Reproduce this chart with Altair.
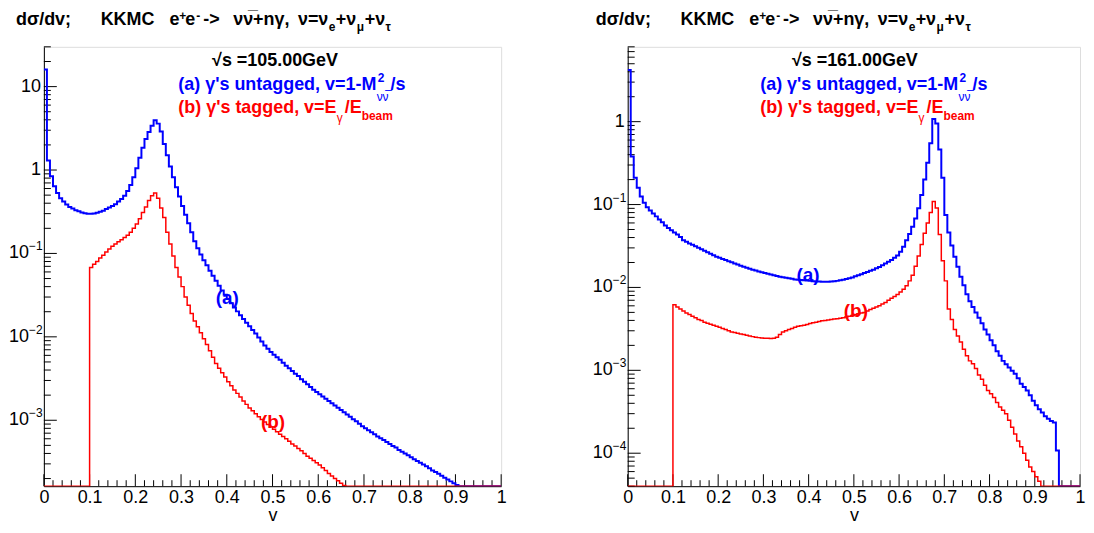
import altair as alt
import pandas as pd

NB = 150
EDGES = [i / NB for i in range(NB)] + [1.0]

# ---- sqrt(s)=105 GeV ----
blue_105 = [
    16, 1.3, 0.84, 0.64, 0.53, 0.46, 0.42, 0.385, 0.36, 0.345,
    0.33, 0.32, 0.31, 0.303, 0.30, 0.30, 0.302, 0.307, 0.315, 0.325,
    0.34, 0.355, 0.37, 0.39, 0.42, 0.45, 0.49, 0.56, 0.66, 0.82,
    1.05, 1.4, 1.85, 2.35, 2.85, 3.4, 3.95, 3.6, 2.9, 2.05,
    1.5, 1.1, 0.82, 0.62, 0.48, 0.37, 0.29, 0.23, 0.18, 0.14,
    0.115, 0.097, 0.083, 0.072, 0.062, 0.054, 0.047, 0.041, 0.036, 0.032,
    0.0285, 0.0252, 0.0225, 0.0202, 0.0182, 0.0164, 0.0148, 0.0134, 0.0121, 0.011,
    0.0098, 0.0088, 0.0079, 0.0072, 0.0066, 0.0061, 0.0057, 0.0053, 0.0049, 0.0045,
    0.0042, 0.0039, 0.0036, 0.0034, 0.0031, 0.0029, 0.0027, 0.0025, 0.00232, 0.00218,
    0.00205, 0.00193, 0.00181, 0.0017, 0.0016, 0.0015, 0.00141, 0.00133, 0.00125, 0.00117,
    0.0011, 0.00103, 0.00097, 0.00091, 0.00085, 0.0008, 0.00076, 0.00072, 0.00068, 0.00064,
    0.00061, 0.00058, 0.00055, 0.00052, 0.00049, 0.00047, 0.00044, 0.00042, 0.0004, 0.00038,
    0.00036, 0.00034, 0.000325, 0.00031, 0.000295, 0.00028, 0.000265, 0.00025, 0.00024, 0.000228,
    0.000216, 0.000205, 0.000195, 0.000185, 0.000176, 0.000167, 0, 0, 0, 0,
    0, 0, 0, 0, 0, 0, 0, 0, 0, 0,
]
red_105 = [
    0, 0, 0, 0, 0, 0, 0, 0, 0, 0,
    0, 0, 0, 0, 0, 0.068, 0.074, 0.08, 0.088, 0.095,
    0.104, 0.113, 0.122, 0.13, 0.138, 0.146, 0.155, 0.165, 0.18, 0.2,
    0.225, 0.26, 0.31, 0.36, 0.43, 0.49, 0.53, 0.46, 0.35, 0.27,
    0.18, 0.13, 0.093, 0.068, 0.052, 0.04, 0.03, 0.024, 0.019, 0.0155,
    0.0132, 0.0112, 0.0095, 0.0081, 0.0068, 0.0057, 0.0048, 0.0042, 0.0037, 0.0033,
    0.0029, 0.0026, 0.0023, 0.0021, 0.0019, 0.0017, 0.00155, 0.0014, 0.0013, 0.0012,
    0.0011, 0.00102, 0.00095, 0.00089, 0.00083, 0.00078, 0.00073, 0.00068, 0.00064, 0.0006,
    0.00056, 0.00052, 0.00049, 0.00046, 0.00043, 0.0004, 0.00037, 0.00035, 0.00033, 0.00031,
    0.00029, 0.00027, 0.00025, 0.00023, 0.000215, 0.0002, 0.000188, 0.000176, 0.000165, 0.000155,
    0, 0, 0, 0, 0, 0, 0, 0, 0, 0,
    0, 0, 0, 0, 0, 0, 0, 0, 0, 0,
    0, 0, 0, 0, 0, 0, 0, 0, 0, 0,
    0, 0, 0, 0, 0, 0, 0, 0, 0, 0,
    0, 0, 0, 0, 0, 0, 0, 0, 0, 0,
]

# ---- sqrt(s)=161 GeV ----
blue_161 = [
    4.2, 0.38, 0.21, 0.16, 0.125, 0.105, 0.093, 0.085, 0.078, 0.072,
    0.066, 0.061, 0.056, 0.052, 0.049, 0.046, 0.0435, 0.0405, 0.037, 0.0355,
    0.034, 0.0327, 0.0314, 0.0301, 0.0289, 0.0277, 0.0266, 0.0255, 0.0245, 0.0235,
    0.0228, 0.0221, 0.0214, 0.0207, 0.0201, 0.0195, 0.0189, 0.0183, 0.0178, 0.0173,
    0.0168, 0.0164, 0.016, 0.0156, 0.0152, 0.0149, 0.0146, 0.0143, 0.014, 0.0137,
    0.0135, 0.0133, 0.0131, 0.0129, 0.0127, 0.0125, 0.0124, 0.0123, 0.0122, 0.0121,
    0.012, 0.0119, 0.0118, 0.0118, 0.0117, 0.0117, 0.0117, 0.0118, 0.0119, 0.012,
    0.0122, 0.0124, 0.0126, 0.0129, 0.0132, 0.0136, 0.014, 0.0144, 0.0149, 0.0154,
    0.0159, 0.0164, 0.017, 0.0177, 0.0185, 0.0194, 0.0204, 0.0215, 0.0228, 0.0243,
    0.027, 0.031, 0.037, 0.044, 0.054, 0.068, 0.09, 0.13, 0.2, 0.32,
    0.55, 1.08, 0.95, 0.46, 0.21, 0.075, 0.046, 0.032, 0.0235, 0.0178,
    0.0135, 0.0106, 0.0083, 0.0068, 0.0058, 0.005, 0.0043, 0.0037, 0.0031, 0.0027,
    0.0023, 0.002, 0.0017, 0.0015, 0.0013, 0.00118, 0.00108, 0.00099, 0.00091, 0.0008,
    0.00069, 0.00063, 0.00057, 0.0005, 0.00043, 0.00038, 0.00034, 0.00031, 0.00028, 0.00026,
    0.000245, 0.000235, 0.000108, 0, 0, 0, 0, 0, 0, 0,
]
red_161 = [
    0, 0, 0, 0, 0, 0, 0, 0, 0, 0,
    0, 0, 0, 0, 0, 0.0062, 0.0058, 0.0055, 0.0052, 0.0049,
    0.0047, 0.0045, 0.0043, 0.0041, 0.004, 0.0038, 0.0037, 0.0036, 0.0035, 0.0034,
    0.0033, 0.0032, 0.0031, 0.003, 0.0029, 0.00285, 0.0028, 0.00275, 0.0027, 0.00265,
    0.0026, 0.00255, 0.0025, 0.00248, 0.00246, 0.00244, 0.00243, 0.00242, 0.00244, 0.0025,
    0.0027, 0.0029, 0.003, 0.0031, 0.0032, 0.0033, 0.0034, 0.00345, 0.0035, 0.00358,
    0.00366, 0.00374, 0.0038, 0.00388, 0.00395, 0.004, 0.00405, 0.0041, 0.00415, 0.0042,
    0.00425, 0.0043, 0.0044, 0.0045, 0.0046, 0.0047, 0.0048, 0.0049, 0.005, 0.0052,
    0.0054, 0.0056, 0.0058, 0.006, 0.0063, 0.0066, 0.007, 0.0074, 0.0078, 0.0082,
    0.0088, 0.0095, 0.0105, 0.012, 0.014, 0.018, 0.024, 0.033, 0.045, 0.06,
    0.08, 0.109, 0.091, 0.0436, 0.021, 0.012, 0.0055, 0.0041, 0.0031, 0.0026,
    0.0022, 0.0018, 0.0015, 0.0013, 0.0012, 0.00105, 0.00088, 0.00078, 0.00066, 0.00057,
    0.00052, 0.00047, 0.00041, 0.00036, 0.00033, 0.0003, 0.00025, 0.000205, 0.00017, 0.00014,
    0.00012, 0.0001, 0.000082, 0.000068, 0.00006, 0.000052, 0.000046, 0.00004, 0, 0,
    0, 0, 0, 0, 0, 0, 0, 0, 0, 0,
]

X_MAJOR = [0, 0.1, 0.2, 0.3, 0.4, 0.5, 0.6, 0.7, 0.8, 0.9, 1.0]
X_MINOR = [round(i * 0.02, 2) for i in range(51) if i % 5 != 0]
Y_MAJOR = [1e-4, 1e-3, 1e-2, 1e-1, 1, 10]
Y_PLAIN = ["", "", "", "", "1", "10"]
Y_EXP = ["\u22124", "\u22123", "\u22122", "\u22121", "", ""]
Y_MINOR = [k * 10.0 ** e for e in range(-5, 2) for k in range(2, 10)]

FONT = "Liberation Sans"
BLUE = "#0000ff"
RED = "#ff0000"
H = 441


def txt(s, x, y, size=18, color="black", weight="bold", align="left"):
    return alt.Chart(pd.DataFrame({"t": [s]})).mark_text(
        font=FONT, fontSize=size, fontWeight=weight, color=color,
        align=align, baseline="middle"
    ).encode(text="t:N", x=alt.value(x), y=alt.value(y))


def panel(blue, red, ymin, ymax, W, energy, dt, cx, lx, lab_a, lab_b):
    xs = alt.Scale(domain=[0, 1], nice=False, zero=False)
    ys = alt.Scale(type="log", domain=[ymin, ymax], nice=False, clamp=True)
    xaxis = alt.Axis(values=X_MAJOR, format="~g", tickSize=0, labelPadding=2,
                     labelFontSize=18, labelFont=FONT, labelColor="black",
                     title="v", titleFont=FONT, titleFontSize=18, titleFontWeight="normal",
                     titlePadding=0, titleColor="black", grid=False,
                     domainColor="black", labelFlush=False, labelOverlap=False)
    yaxis = alt.Axis(labels=False, ticks=False, title=None, grid=False, domainColor="black")

    def series(vals, color, sw):
        df = pd.DataFrame({"v": EDGES, "val": [max(x, 1e-12) for x in vals + [vals[-1]]]})
        return alt.Chart(df).mark_line(interpolate="step-after", color=color,
                                       strokeWidth=sw, clip=True).encode(
            x=alt.X("v:Q", scale=xs, axis=xaxis),
            y=alt.Y("val:Q", scale=ys, axis=yaxis),
        )

    def xticks(vals, ln):
        return alt.Chart(pd.DataFrame({"v": vals})).mark_rule(color="black", strokeWidth=1).encode(
            x=alt.X("v:Q", scale=xs, axis=xaxis), y=alt.value(H), y2=alt.value(H - ln))

    def yticks(vals, ln):
        vals = [v for v in vals if ymin <= v <= ymax]
        return alt.Chart(pd.DataFrame({"val": vals})).mark_rule(color="black", strokeWidth=1).encode(
            y=alt.Y("val:Q", scale=ys, axis=yaxis), x=alt.value(0), x2=alt.value(ln))

    ylab = pd.DataFrame({"val": Y_MAJOR, "plain": Y_PLAIN, "exp": Y_EXP})
    ylab = ylab[(ylab.val >= ymin) & (ylab.val <= ymax)]
    lab_plain = alt.Chart(ylab[ylab.plain != ""]).mark_text(
        font=FONT, fontSize=18, align="right", baseline="middle", color="black"
    ).encode(y=alt.Y("val:Q", scale=ys, axis=yaxis), text="plain:N", x=alt.value(-3))
    lab_ten = alt.Chart(ylab[ylab.exp != ""]).mark_text(
        font=FONT, fontSize=18, align="right", baseline="middle", color="black", text="10"
    ).encode(y=alt.Y("val:Q", scale=ys, axis=yaxis), x=alt.value(-15))
    lab_exp = alt.Chart(ylab[ylab.exp != ""]).mark_text(
        font=FONT, fontSize=12, align="left", baseline="middle", color="black", dy=-7
    ).encode(y=alt.Y("val:Q", scale=ys, axis=yaxis), text="exp:N", x=alt.value(-15))

    layers = [
        xticks(X_MAJOR, 12), xticks(X_MINOR, 6),
        yticks(Y_MAJOR, 13), yticks(Y_MINOR, 7),
        lab_plain, lab_ten, lab_exp,
        series(blue, BLUE, 2), series(red, RED, 1.5),
        # title
        txt("d\u03c3/dv;", -28 + dt, -27),
        txt("KKMC", 57 + dt, -27),
        txt("e", 126 + dt, -27), txt("+", 136 + dt, -31, size=12),
        txt("e", 142 + dt, -27), txt("-", 153 + dt, -31, size=12),
        txt("->", 160 + dt, -27),
        txt("\u03bd\u03bd\u0305+n\u03b3,", 190 + dt, -27),
        txt("\u03bd=\u03bd", 255 + dt, -27),
        txt("e", 286 + dt, -20, size=12),
        txt("+\u03bd", 293 + dt, -27),
        txt("\u03bc", 314 + dt, -20, size=12),
        txt("+\u03bd", 322 + dt, -27),
        txt("\u03c4", 343 + dt, -20, size=12),
        # legend texts
        txt("\u221as =" + energy, cx, 14, align="center"),
        txt("(a) \u03b3's untagged, v=1-M", lx, 38, color=BLUE),
        txt("2", lx + 200, 31, size=12, color=BLUE),
        txt("\u03bd\u03bd\u0305", lx + 199, 50, size=12, color=BLUE, weight="normal"),
        txt("/s", lx + 213, 38, color=BLUE),
        txt("(b) \u03b3's tagged, v=E", lx, 61, color=RED),
        txt("\u03b3", lx + 159, 71, size=12, color=RED, weight="normal"),
        txt("/E", lx + 167, 61, color=RED),
        txt("beam", lx + 184, 69, size=12, color=RED),
        # curve labels
        txt("(a)", lab_a[0], lab_a[1], size=19, color=BLUE, align="center"),
        txt("(b)", lab_b[0], lab_b[1], size=19, color=RED, align="center"),
    ]
    return alt.layer(*layers).properties(width=W, height=H)


left = panel(blue_105, red_105, 1.62e-4, 30.0, 459, "105.00GeV", 0, 232, 135,
             (184, 252), (230, 377))
right = panel(blue_161, red_161, 4.0e-5, 8.0, 454, "161.00GeV", -4, 228, 133,
              (181, 229), (229, 265))

chart = alt.hconcat(left, right, spacing=85).properties(
    padding={"left": 0, "top": 0, "right": 0, "bottom": 0}
).configure_view(stroke="#333333", strokeWidth=1).configure(background="white")

chart.save("out.html", embed_options={"renderer": "svg", "actions": False})
